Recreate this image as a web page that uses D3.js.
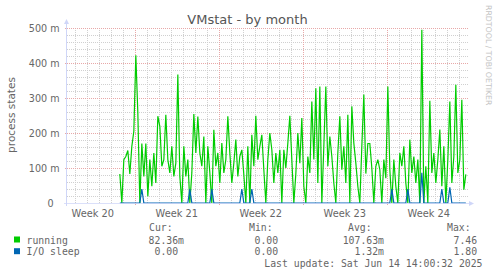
<!DOCTYPE html>
<html>
<head>
<meta charset="utf-8">
<script src="https://cdn.jsdelivr.net/npm/d3@7"></script>
<style>
body { margin: 0; background: #fff; }
text { font-family: "DejaVu Sans", sans-serif; }
.mono { font-family: "DejaVu Sans Mono", monospace; }
</style>
</head>
<body>
<script>
// running processes, milli units, one value every 4 hours, last one at Jun 14 14:00
var running = [
  83,0,124,133,150,83,162,205,422,257,
  0,170,76,170,19,124,48,143,57,248,
  219,105,124,252,124,86,162,76,114,367,
  76,0,162,76,124,0,86,254,143,247,
  143,105,190,0,162,86,0,209,105,143,
  57,171,86,124,248,143,57,114,181,76,
  133,152,81,0,162,0,195,105,249,124,
  162,195,95,0,124,200,152,57,143,86,
  152,0,152,100,171,249,124,0,84,200,
  114,243,48,0,133,86,290,124,328,57,
  333,0,162,333,105,190,133,57,0,143,
  248,95,162,57,252,0,276,171,114,48,
  0,162,310,84,170,170,100,0,105,124,
  95,0,124,71,333,95,0,124,48,0,
  143,105,162,57,0,181,86,133,57,124,
  0,495,0,105,0,292,86,143,57,124,
  210,48,162,0,124,290,57,133,338,86,
  124,295,38,82
];
var ioSleep = [
  0,0,0,0,0,0,0,0,0,0,
  0,40,0,0,0,0,0,0,0,0,
  0,0,0,0,0,0,0,0,0,0,
  0,0,0,0,0,40,0,0,0,0,
  0,0,0,0,0,0,40,0,0,0,
  0,0,0,0,0,0,0,0,0,0,
  0,40,0,0,0,0,40,0,0,0,
  0,0,0,0,0,0,0,0,0,0,
  0,0,0,0,0,0,0,0,0,0,
  0,0,0,0,0,0,0,0,0,0,
  0,0,0,0,0,0,0,0,0,0,
  0,0,0,0,0,0,0,0,0,0,
  0,0,0,0,0,0,0,0,0,0,
  0,0,0,0,0,0,40,0,0,0,
  0,0,0,0,40,0,0,0,0,0,
  0,86,0,0,0,0,0,0,0,0,
  0,40,0,0,0,45,0,0,0,0,
  0,0,0,0
];
var lastPoint = new Date(2025, 5, 14, 14, 0);
var stepHours = 4;

var weekStarts = [new Date(2025,4,11), new Date(2025,4,18), new Date(2025,4,25), new Date(2025,5,1), new Date(2025,5,8)];
var weekLabels = ["Week 20", "Week 21", "Week 22", "Week 23", "Week 24"];
var yTicks = [0, 100, 200, 300, 400, 500];
var yTickLabels = ["0", "100 m", "200 m", "300 m", "400 m", "500 m"];

var seriesNames = ["running", "I/O sleep"];
var seriesColors = ["#00cc00", "#0066b3"];
var curVals = ["82.36m", "0.00"];
var minVals = ["0.00", "0.00"];
var avgVals = ["107.63m", "1.32m"];
var maxVals = ["7.46", "1.80"];

var w = 497, h = 276;
var plotLeft = 67, plotRight = 467, plotTop = 28, plotBottom = 203;

var end = new Date(2025, 5, 14, 16, 20);
var start = new Date(end.getTime() - 800 * 3600 * 1000);

var svg = d3.select("body").append("svg")
  .attr("width", w)
  .attr("height", h);

svg.append("rect").attr("width", w).attr("height", h).attr("fill", "#fff");

var x = d3.scaleTime().domain([start, end]).range([plotLeft, plotRight]);
var y = d3.scaleLinear().domain([0, 500]).range([plotBottom, plotTop]);

function tAt(i, n) {
  return new Date(lastPoint.getTime() - (n - 1 - i) * stepHours * 3600 * 1000);
}
function crisp(v) { return Math.round(v) + 0.5; }

// minor horizontal grid, every 20m
var minorY = d3.range(20, 500, 20).filter(function(d){ return d % 100 != 0; });
svg.selectAll(".hmin").data(minorY).enter().append("line")
  .attr("x1", plotLeft).attr("x2", plotRight + 1)
  .attr("y1", function(d){ return crisp(y(d)); })
  .attr("y2", function(d){ return crisp(y(d)); })
  .attr("stroke", "#d0d0d0")
  .attr("stroke-dasharray", "1,1");

// minor vertical grid, every day
var isWeek = function(d){ return d.getDay() == 0; };
var days = d3.timeDay.range(start, end).filter(function(d){ return !isWeek(d); });
svg.selectAll(".vmin").data(days).enter().append("line")
  .attr("x1", function(d){ return crisp(x(d)); })
  .attr("x2", function(d){ return crisp(x(d)); })
  .attr("y1", plotTop).attr("y2", plotBottom)
  .attr("stroke", "#d0d0d0")
  .attr("stroke-dasharray", "1,1");

// major horizontal grid
svg.selectAll(".hmaj").data(yTicks.slice(1)).enter().append("line")
  .attr("x1", plotLeft - 2).attr("x2", plotRight + 1)
  .attr("y1", function(d){ return crisp(y(d)); })
  .attr("y2", function(d){ return crisp(y(d)); })
  .attr("stroke", "#e8a8a8")
  .attr("stroke-dasharray", "1,1");

// major vertical grid (week boundaries)
var weekLines = weekStarts.filter(function(d){ return d > start; });
svg.selectAll(".vmaj").data(weekLines).enter().append("line")
  .attr("x1", function(d){ return crisp(x(d)); })
  .attr("x2", function(d){ return crisp(x(d)); })
  .attr("y1", plotTop).attr("y2", plotBottom + 3)
  .attr("stroke", "#e8a8a8")
  .attr("stroke-dasharray", "1,1");

// series
var line = d3.line()
  .x(function(d, i){ return x(tAt(i, running.length)); })
  .y(function(d){ return y(d); });

svg.append("path")
  .datum(running)
  .attr("d", line)
  .attr("fill", "none")
  .attr("stroke", seriesColors[0])
  .attr("stroke-width", 1.2);

svg.append("path")
  .datum(ioSleep)
  .attr("d", line)
  .attr("fill", "none")
  .attr("stroke", seriesColors[1])
  .attr("stroke-width", 1.2);

// axes
svg.append("line")
  .attr("x1", plotLeft - 3).attr("x2", plotRight + 2)
  .attr("y1", plotBottom + 0.5).attr("y2", plotBottom + 0.5)
  .attr("stroke", "#cfd6f8").attr("stroke-opacity", 0.75);
svg.append("path")
  .attr("d", "M" + (plotRight + 2) + "," + (plotBottom - 2) + "L" + (plotRight + 7) + "," + (plotBottom + 0.5) + "L" + (plotRight + 2) + "," + (plotBottom + 3) + "Z")
  .attr("fill", "#cfd6f8");
svg.append("line")
  .attr("x1", plotLeft - 0.5).attr("x2", plotLeft - 0.5)
  .attr("y1", plotBottom + 3).attr("y2", plotTop - 4)
  .attr("stroke", "#cfd6f8");
svg.append("path")
  .attr("d", "M" + (plotLeft - 3) + "," + (plotTop - 4) + "L" + (plotLeft - 0.5) + "," + (plotTop - 9) + "L" + (plotLeft + 2) + "," + (plotTop - 4) + "Z")
  .attr("fill", "#cfd6f8");

// y labels
svg.selectAll(".ylab").data(yTicks).enter().append("text")
  .attr("x", function(d){ return d == 0 ? 53.5 : 59.5; })
  .attr("y", function(d){ return y(d) + 3.5; })
  .attr("text-anchor", "end")
  .attr("font-size", "9.6px")
  .attr("fill", "#666")
  .text(function(d, i){ return yTickLabels[i]; });

// week labels
svg.selectAll(".xlab").data(weekStarts).enter().append("text")
  .attr("x", function(d){ return x(new Date(d.getTime() + 3.5 * 86400000)); })
  .attr("y", 216.5)
  .attr("text-anchor", "middle")
  .attr("font-size", "9.8px")
  .attr("fill", "#666")
  .text(function(d, i){ return weekLabels[i]; });

// title and side texts
svg.append("text")
  .attr("x", 247.5).attr("y", 23.5)
  .attr("text-anchor", "middle")
  .attr("font-size", "13px")
  .attr("fill", "#555")
  .text("VMstat - by month");

svg.append("text")
  .attr("transform", "translate(15,115) rotate(-90)")
  .attr("text-anchor", "middle")
  .attr("font-size", "10.5px")
  .attr("fill", "#666")
  .text("process states");

svg.append("text")
  .attr("transform", "translate(485.5,5) rotate(90)")
  .attr("font-size", "7.8px")
  .attr("fill", "#c4c4c4")
  .text("RRDTOOL / TOBI OETIKER");

// legend
var fs = "9.8px";
var heads = [["Cur:", 149], ["Min:", 249], ["Avg:", 348], ["Max:", 447]];
svg.selectAll(".head").data(heads).enter().append("text")
  .attr("class", "mono")
  .attr("x", function(d){ return d[1]; })
  .attr("y", 231)
  .attr("font-size", fs)
  .attr("fill", "#666")
  .text(function(d){ return d[0]; });

var rowY = [243.5, 255.2];
var colEnd = [184, 284, 384, 483];
function pad(s) { return /[a-zA-Z]$/.test(s) ? s : s + " "; }

seriesNames.forEach(function(name, i) {
  svg.append("rect")
    .attr("x", 14).attr("y", rowY[i] - 7)
    .attr("width", 6).attr("height", 6)
    .attr("fill", seriesColors[i]);
  svg.append("text")
    .attr("class", "mono")
    .attr("x", 26.5).attr("y", rowY[i])
    .attr("font-size", fs).attr("fill", "#666")
    .text(name);
  [curVals, minVals, avgVals, maxVals].forEach(function(arr, j) {
    svg.append("text")
      .attr("class", "mono")
      .attr("x", colEnd[j]).attr("y", rowY[i])
      .attr("text-anchor", "end")
      .style("white-space", "pre")
      .attr("font-size", fs).attr("fill", "#666")
      .text(pad(arr[i]));
  });
});

svg.append("text")
  .attr("class", "mono")
  .attr("x", 482.5).attr("y", 267)
  .attr("text-anchor", "end")
  .attr("font-size", fs)
  .attr("fill", "#666")
  .text("Last update: Sat Jun 14 14:00:32 2025");
</script>
</body>
</html>
